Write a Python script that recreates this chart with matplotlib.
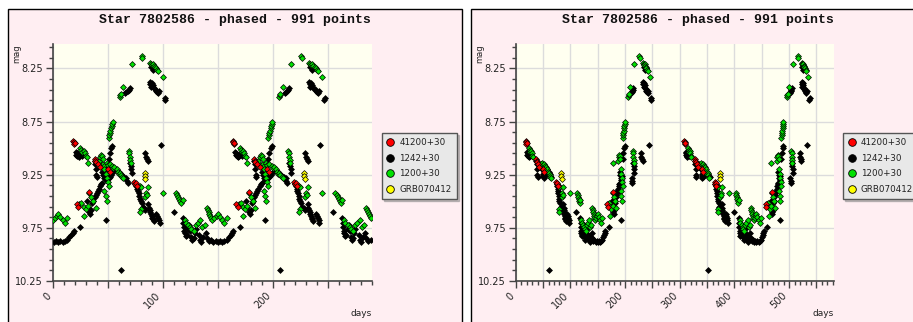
import numpy as np
import matplotlib
matplotlib.use("Agg")
import matplotlib.pyplot as plt
from matplotlib.patches import Rectangle
from matplotlib.lines import Line2D
from matplotlib.ticker import MultipleLocator, FixedLocator, FuncFormatter

# ---------------- data (phase in days for the 290-day fold, magnitude) -------------
TITLE = "Star 7802586 - phased - 991 points"
PERIOD_LONG = 290.0
PERIOD_SHORT = 145.0
series_labels = ["41200+30", "1242+30", "1200+30", "GRB070412"]
series_colors = ["#ff0000", "#000000", "#00e000", "#ffff00"]

red_pts = [(18.5, 8.93), (19, 8.94), (19.5, 8.96), (20, 8.95),
           (38, 9.10), (38.5, 9.12), (39, 9.13), (41, 9.15), (43, 9.18),
           (50, 9.20), (52, 9.22),
           (74, 9.32), (75, 9.34), (76, 9.33), (77, 9.36),
           (167, 9.53), (168, 9.55), (178, 9.41)]

black_pts = [(21, 9.04), (21.5, 9.06), (22, 9.05), (22.5, 9.07), (23, 9.06), (23.5, 9.08), (24, 9.07),
             (26, 9.05), (27, 9.07),
             (38, 9.12), (38.5, 9.15), (39, 9.20), (39.5, 9.25), (40, 9.27),
             (46, 9.17), (47, 9.19), (48, 9.20), (50, 9.24), (50.5, 9.26), (51, 9.28), (52, 9.27),
             (53, 9.25), (55, 9.22), (57, 9.20), (60, 9.22), (62, 9.24), (63, 9.26), (65, 9.27),
             (61.7, 10.15),
             (75, 9.34), (76, 9.36), (77, 9.38), (77.5, 9.40), (78, 9.42), (78.5, 9.45), (79, 9.48),
             (80, 9.50), (81, 9.52), (82, 9.55), (83, 9.56), (84, 9.58),
             (87, 9.53), (87.5, 9.56), (88, 9.58), (88.5, 9.60), (89, 9.62), (90, 9.64), (90.5, 9.66),
             (91, 9.67), (92, 9.69), (94, 9.62), (95, 9.64), (96, 9.66), (97, 9.68), (97.5, 9.70),
             (110, 9.60),
             (118, 9.66), (118.5, 9.70), (119, 9.74), (119.5, 9.78), (120, 9.80), (121, 9.83),
             (122, 9.82), (123, 9.76), (124, 9.72), (125, 9.78), (126, 9.84), (127, 9.86),
             (128, 9.85), (129, 9.80), (130, 9.76),
             (133, 9.82), (134, 9.86), (135, 9.88), (137, 9.84), (139, 9.80), (140, 9.85), (142, 9.87),
             (144, 9.86), (146, 9.88), (148, 9.87), (150, 9.88), (152, 9.87), (154, 9.88), (156, 9.87),
             (158, 9.86), (160, 9.84), (162, 9.82), (163, 9.80), (164, 9.78),
             (170, 9.74),
             (176, 9.50), (177, 9.55), (178, 9.60), (179, 9.62), (180, 9.58), (181, 9.52), (182, 9.50),
             (183, 9.46), (184, 9.44), (185, 9.42), (186, 9.40), (187, 9.38), (188, 9.36),
             (189, 9.34), (190, 9.33), (193, 9.68),
             (190, 9.22), (191, 9.25), (192, 9.28), (193, 9.30), (194, 9.26), (196, 9.10), (197, 9.05),
             (198, 9.00), (199, 8.98),
             (212, 9.28), (212.5, 9.31), (213, 9.33), (215, 9.14), (216, 9.17), (216.5, 9.20), (217, 9.23),
             (229, 9.05), (230, 9.08), (231, 9.10), (232, 9.12), (243, 8.97),
             (211, 8.48), (212, 8.47), (213, 8.46), (214, 8.45), (215, 8.43),
             (233, 8.38), (233.5, 8.40), (234, 8.42), (235, 8.39), (236, 8.41), (237, 8.43), (238, 8.44),
             (239, 8.46), (240, 8.47), (241, 8.48), (242, 8.46),
             (247, 8.55), (247.5, 8.53),
             (234, 8.24), (236, 8.26), (238, 8.25)]

green_pts = [(25, 9.00), (26, 9.02), (27, 9.04), (28, 9.03), (29, 9.05), (30, 9.07), (31, 9.08),
             (44, 9.16), (45, 9.18), (46, 9.15), (47, 9.17), (49, 9.14), (50, 9.16), (52, 9.15),
             (54, 9.17), (55, 9.19), (56, 9.18), (58, 9.20), (59, 9.22), (60, 9.24), (61, 9.23),
             (62, 9.25), (63, 9.27), (64, 9.28),
             (79, 9.36), (80, 9.37), (87, 9.37), (85, 9.42), (84, 9.46), (86, 9.44), (80, 9.57), (79, 9.60),
             (100, 9.42),
             (112, 9.42), (113, 9.44), (114, 9.46), (115, 9.48), (116, 9.50), (117, 9.52), (118, 9.49),
             (120, 9.68), (121, 9.70), (123, 9.72), (125, 9.74), (126, 9.76), (128, 9.78),
             (140, 9.56), (141, 9.58), (142, 9.60), (142.5, 9.62), (143, 9.64), (144, 9.66), (145, 9.68),
             (130, 9.72), (132, 9.70), (134, 9.68), (136, 9.74), (138, 9.72), (147, 9.66), (149, 9.64),
             (150, 9.62), (152, 9.65), (154, 9.68), (156, 9.70), (158, 9.66),
             (169, 9.53), (171, 9.52), (173, 9.55), (175, 9.57), (177, 9.54),
             (177, 9.14),
             (187, 9.12), (188, 9.08), (189, 9.06), (190, 9.07), (191, 9.10), (192, 9.20), (193, 9.24),
             (194, 9.28), (195, 9.32), (196, 9.36), (192, 9.40), (193, 9.45), (194, 9.50),
             (178, 9.42), (180, 9.46), (182, 9.50), (184, 9.56), (173, 9.64),
             (196, 8.90), (196.5, 8.88), (197, 8.86), (197.5, 8.84), (198, 8.81), (198.5, 8.79),
             (199, 8.77), (199.5, 8.75),
             (214, 9.03), (214.5, 9.05), (215, 9.08), (215.5, 9.11), (216, 9.14),
             (206, 8.52), (206.5, 8.50), (207, 8.49), (209, 8.42),
             (217, 8.21), (226, 8.13), (226.5, 8.15),
             (233, 8.20), (234, 8.21), (235, 8.22), (236, 8.21), (237, 8.23), (238, 8.24), (239, 8.25),
             (240, 8.26), (241, 8.27), (245, 8.33)]

yellow_pts = [(83.5, 9.23), (83.5, 9.26), (84, 9.29)]

series_pts = [red_pts, black_pts, green_pts, yellow_pts]
draw_order = [1, 2, 0, 3]

# ---------------- styling ----------------
W, H = 913, 322
PANEL_BG = "#ffeef2"
PLOT_BG = "#fffff0"
GRID = "#dcdcdc"

fig = plt.figure(figsize=(W / 100, H / 100), dpi=100, facecolor="white")


def fx(px):
    return px / W


def fy(py):
    return 1 - py / H


def make_panel(px0, px1, ax_x0, ax_x1, period, xmax, legend_x):
    # panel frame
    fig.add_artist(Rectangle((fx(px0), fy(335)), fx(px1) - fx(px0), fy(8.5) - fy(335),
                             transform=fig.transFigure, facecolor=PANEL_BG,
                             edgecolor="black", lw=1.0, zorder=0))
    ax = fig.add_axes([fx(ax_x0), fy(281), fx(ax_x1) - fx(ax_x0), fy(44) - fy(281)])
    ax.set_facecolor(PLOT_BG)
    handles = []
    for i in draw_order:
        pts = np.array(series_pts[i], dtype=float)
        ph = np.mod(pts[:, 0], period)
        x = np.concatenate([ph, ph + period])
        y = np.concatenate([pts[:, 1], pts[:, 1]])
        ax.plot(x, y, linestyle="none", marker="D", markersize=3.0,
                markerfacecolor=series_colors[i], markeredgecolor="black",
                markeredgewidth=0.5, zorder=3 + draw_order.index(i))
    for i in range(4):
        handles.append(Line2D([], [], linestyle="none", marker="o", markersize=5.5,
                              markerfacecolor=series_colors[i], markeredgecolor="black",
                              markeredgewidth=0.6, label=series_labels[i]))
    ax.set_xlim(0, xmax)
    ax.set_ylim(10.25, 8.02)
    for s in ["top", "right"]:
        ax.spines[s].set_visible(False)
    for s in ["left", "bottom"]:
        ax.spines[s].set_color("#444444")
        ax.spines[s].set_linewidth(1.2)
    ax.xaxis.set_major_locator(MultipleLocator(50))
    ax.xaxis.set_minor_locator(MultipleLocator(10))
    ax.xaxis.set_major_formatter(FuncFormatter(lambda v, p: "%d" % v if abs(v % 100) < 1e-6 else ""))
    ax.yaxis.set_major_locator(FixedLocator([8.25, 8.75, 9.25, 9.75, 10.25]))
    ax.yaxis.set_minor_locator(FixedLocator(np.round(np.arange(8.05, 10.26, 0.1), 2)))
    ax.yaxis.set_major_formatter(FuncFormatter(lambda v, p: "%.2f" % v))
    ax.tick_params(axis="both", which="major", direction="out", length=5, width=1,
                   color="#444444", labelsize=7, labelcolor="#222222", pad=2)
    ax.tick_params(axis="both", which="minor", direction="out", length=3, width=1, color="#444444")
    for lab in ax.get_xticklabels():
        lab.set_rotation(45)
        lab.set_ha("right")
        lab.set_va("top")
    ax.grid(True, which="major", color=GRID, lw=1.0, zorder=0)
    ax.set_axisbelow(True)

    leg = ax.legend(handles=handles, loc="upper left",
                    bbox_to_anchor=(fx(legend_x), fy(133)), bbox_transform=fig.transFigure,
                    fontsize=6.3, frameon=True, fancybox=False,
                    shadow={"ox": 1.5, "oy": -1.5, "color": "#888888"},
                    borderpad=0.6, labelspacing=0.75, handlelength=0.8, handletextpad=0.6,
                    borderaxespad=0)
    leg.get_frame().set_facecolor("#e8e8e8")
    leg.get_frame().set_edgecolor("#555555")
    leg.get_frame().set_linewidth(1.0)
    leg.get_frame().set_alpha(1)
    for t in leg.get_texts():
        t.set_color("#222222")

    cx = (px0 + px1) / 2
    fig.text(fx(cx), fy(19.5), TITLE, ha="center", va="center",
             family="Liberation Mono", weight="bold", fontsize=9.5, color="#111111")
    fig.text(fx(px0 + 9), fy(54), "mag", rotation=90, ha="center", va="center",
             fontsize=6, color="#222222")
    fig.text(fx(ax_x1), fy(313), "days", ha="right", va="center",
             fontsize=6.5, color="#222222")
    return ax


make_panel(7.5, 461.5, 52.7, 371.7, PERIOD_SHORT, 290, 381.7)
make_panel(470.5, 925, 515.7, 834, PERIOD_LONG, 582, 843.3)

fig.savefig("out.png", dpi=100, facecolor="white")
